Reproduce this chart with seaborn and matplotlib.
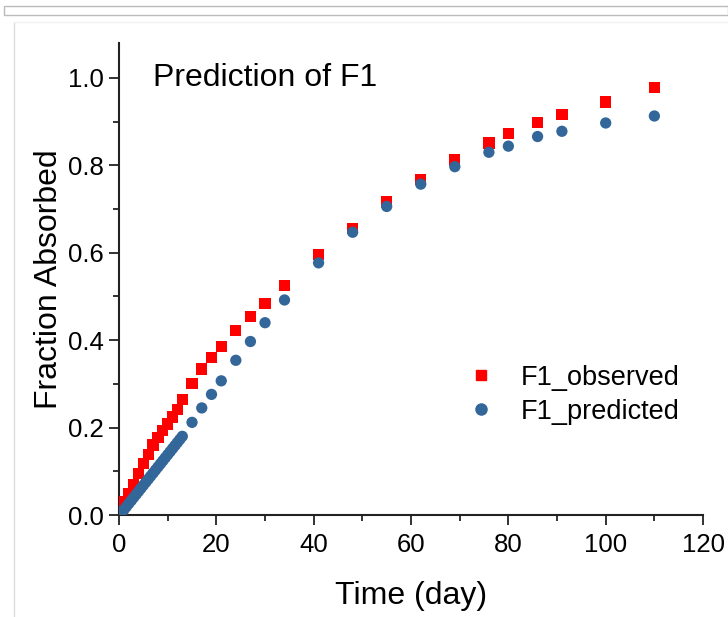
import matplotlib
matplotlib.use("Agg")
import matplotlib.pyplot as plt
from matplotlib.lines import Line2D
from matplotlib.ticker import MultipleLocator
import seaborn as sns
import pandas as pd

# ---- data ----
obs_days = [0.5, 1, 2, 3, 4, 5, 6, 7, 8, 9, 10, 11, 12, 13,
            15, 17, 19, 21, 24, 27, 30, 34, 41, 48, 55, 62, 69, 76, 80, 86, 91, 100, 110]
obs_vals = [0.018, 0.030, 0.050, 0.070, 0.095, 0.118, 0.139, 0.160, 0.177, 0.193, 0.208, 0.224, 0.242, 0.264,
            0.301, 0.334, 0.361, 0.386, 0.422, 0.455, 0.484, 0.525, 0.596, 0.656, 0.716, 0.768, 0.812,
            0.851, 0.873, 0.898, 0.917, 0.945, 0.979]

pred_days = [0.5, 1, 1.5, 2, 2.5, 3, 3.5, 4, 4.5, 5, 5.5, 6, 6.5, 7, 7.5, 8, 8.5, 9, 9.5, 10,
             10.5, 11, 11.5, 12, 12.5, 13,
             15, 17, 19, 21, 24, 27, 30, 34, 41, 48, 55, 62, 69, 76, 80, 86, 91, 100, 110]
pred_vals = [0.006, 0.012, 0.019, 0.026, 0.033, 0.040, 0.047, 0.054, 0.061, 0.068, 0.075, 0.082,
             0.089, 0.096, 0.103, 0.110, 0.117, 0.124, 0.131, 0.138, 0.145, 0.152, 0.159, 0.166,
             0.173, 0.180,
             0.212, 0.245, 0.276, 0.307, 0.354, 0.397, 0.440, 0.492, 0.577, 0.647, 0.706, 0.757,
             0.797, 0.830, 0.844, 0.866, 0.878, 0.897, 0.913]

labels = ["F1_observed", "F1_predicted"]
x_ticks = [0, 20, 40, 60, 80, 100, 120]
y_ticks = [0.0, 0.2, 0.4, 0.6, 0.8, 1.0]

df = pd.concat([
    pd.DataFrame({"Time": obs_days, "Fraction": obs_vals, "Series": labels[0]}),
    pd.DataFrame({"Time": pred_days, "Fraction": pred_vals, "Series": labels[1]}),
])

sns.set_style("ticks")
plt.rcParams["font.family"] = ["Liberation Sans", "DejaVu Sans"]
plt.rcParams["text.color"] = "black"
plt.rcParams["axes.labelcolor"] = "black"
plt.rcParams["xtick.color"] = "black"
plt.rcParams["ytick.color"] = "black"

fig = plt.figure(figsize=(7.28, 6.17), dpi=100)
ax = fig.add_axes([0.1635, 0.1653, 0.8022, 0.765])

sns.scatterplot(data=df, x="Time", y="Fraction", hue="Series", style="Series",
                palette={labels[0]: "#FF0000", labels[1]: "#336699"},
                markers={labels[0]: "s", labels[1]: "o"},
                s=66, linewidth=0, ax=ax, legend=False, zorder=3)

ax.set_xlim(0, 120)
ax.set_ylim(0, 1.08)
ax.set_xticks(x_ticks)
ax.set_yticks(y_ticks)
ax.set_xticklabels([str(v) for v in x_ticks])
ax.set_yticklabels([f"{v:.1f}" for v in y_ticks])
ax.xaxis.set_minor_locator(MultipleLocator(10))
ax.yaxis.set_minor_locator(MultipleLocator(0.1))
ax.tick_params(axis="both", which="major", length=7, width=1.3, direction="out",
               labelsize=18.5, color="#222222", labelcolor="black", pad=4)
ax.tick_params(axis="x", which="major", pad=6)
ax.tick_params(axis="both", which="minor", length=4, width=1.3, direction="out", color="#222222")
for side in ["top", "right"]:
    ax.spines[side].set_visible(False)
for side in ["left", "bottom"]:
    ax.spines[side].set_linewidth(1.5)
    ax.spines[side].set_color("#222222")

ax.set_xlabel("Time (day)", fontsize=23, labelpad=17)
ax.set_ylabel("Fraction Absorbed", fontsize=23, labelpad=3)

ax.text(7.0, 1.0, "Prediction of F1", fontsize=23, va="center", ha="left")

handles = [
    Line2D([], [], marker="s", color="#FF0000", linestyle="none", markersize=7),
    Line2D([], [], marker="o", color="#336699", linestyle="none", markersize=8),
]
ax.legend(handles, labels, loc="center left", bbox_to_anchor=(0.544, 0.255),
          frameon=False, fontsize=19.5, handletextpad=0.7, labelspacing=0.3, handlelength=1.5)

# screenshot frame artefacts
fig.add_artist(plt.Rectangle((4 / 728, 1 - 15 / 617), 724 / 728, 9 / 617, transform=fig.transFigure,
                             fill=False, edgecolor="#bbbbbb", linewidth=1))
fig.add_artist(Line2D([14 / 728, 14 / 728], [0, 1 - 22 / 617], transform=fig.transFigure,
                      color="#dddddd", linewidth=1))
fig.add_artist(Line2D([14 / 728, 1], [1 - 22 / 617, 1 - 22 / 617], transform=fig.transFigure,
                      color="#f2f2f2", linewidth=1))

fig.savefig("out.png", dpi=100)
